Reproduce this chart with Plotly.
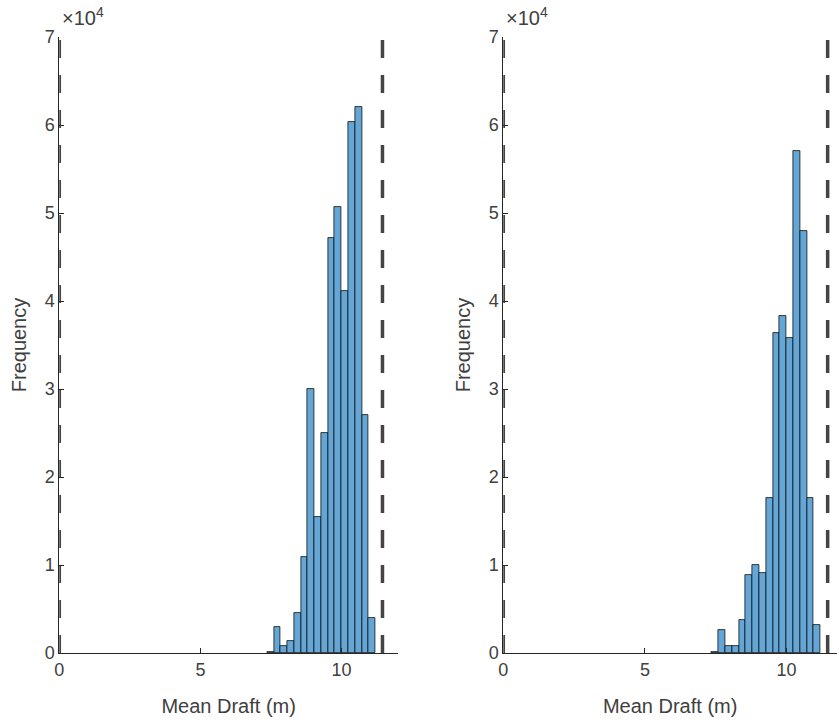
import plotly.graph_objects as go

# ---- data ----
bin_start = 7.36
bin_width = 0.24
left_counts = [150, 2950, 760, 1390, 4550, 10900, 30000, 15400, 25000,
               47200, 50700, 41100, 60300, 62000, 27000, 4000]
right_counts = [100, 2560, 760, 760, 3700, 8900, 10000, 9060, 17600,
                36400, 38300, 35800, 57100, 48000, 17600, 3200]
limit_lines = [0, 11.45]
x_ticks = [0, 5, 10]
y_ticks = [0, 10000, 20000, 30000, 40000, 50000, 60000, 70000]
y_tick_labels = ["0", "1", "2", "3", "4", "5", "6", "7"]

W, H = 837, 727
centers = [bin_start + bin_width * (i + 0.5) for i in range(len(left_counts))]

BAR = "rgb(100,166,214)"
AX = "#262626"
TXT = "#404040"
DASH = "#444444"
FONT = "Liberation Sans, Arial, sans-serif"

fig = go.Figure()
for counts, xa, ya in [(left_counts, "x", "y"), (right_counts, "x2", "y2")]:
    fig.add_trace(go.Bar(x=centers, y=counts, width=bin_width, xaxis=xa, yaxis=ya,
                         marker=dict(color=BAR, line=dict(color="#111111", width=0.8)),
                         showlegend=False))
    for xv in limit_lines:
        fig.add_trace(go.Scatter(x=[xv, xv], y=[y_ticks[0], y_ticks[-1]], mode="lines",
                                 xaxis=xa, yaxis=ya, showlegend=False,
                                 line=dict(color=DASH, width=3.5, dash="18px,17px")))

def px(v):
    return v / W

ydom = [1 - 653 / H, 1 - 37 / H]
xcommon = dict(showgrid=False, zeroline=False, showline=True, linecolor=AX, linewidth=1,
               ticks="inside", ticklen=5, tickcolor=AX, tickvals=x_ticks, automargin=False,
               tickfont=dict(family=FONT, size=18, color=TXT),
               title=dict(text="Mean Draft (m)", font=dict(family=FONT, size=20, color=TXT),
                          standoff=20))
ycommon = dict(showgrid=False, zeroline=False, showline=True, linecolor=AX, linewidth=1,
               ticks="inside", ticklen=5, tickcolor=AX, range=[0, 70000], automargin=False,
               tickvals=y_ticks, ticktext=y_tick_labels, domain=ydom,
               tickfont=dict(family=FONT, size=18, color=TXT),
               title=dict(text="Frequency", font=dict(family=FONT, size=20, color=TXT),
                          standoff=12))

fig.update_layout(
    width=W, height=H, margin=dict(l=0, r=0, t=0, b=0, autoexpand=False),
    paper_bgcolor="white", plot_bgcolor="white", bargap=0,
    xaxis=dict(domain=[px(59.3), px(398)], range=[0, 12], anchor="y", **xcommon),
    yaxis=dict(anchor="x", **ycommon),
    xaxis2=dict(domain=[px(503.3), 1.0], range=[0, 11.78], anchor="y2", **xcommon),
    yaxis2=dict(anchor="x2", **ycommon),
    annotations=[
        dict(text="×10<sup>4</sup>", xref="paper", yref="paper", x=px(60), y=1 - 31 / H,
             xanchor="left", yanchor="bottom", showarrow=False,
             font=dict(family=FONT, size=20, color=TXT)),
        dict(text="×10<sup>4</sup>", xref="paper", yref="paper", x=px(504), y=1 - 31 / H,
             xanchor="left", yanchor="bottom", showarrow=False,
             font=dict(family=FONT, size=20, color=TXT)),
    ],
)

fig.write_html("out.html")
